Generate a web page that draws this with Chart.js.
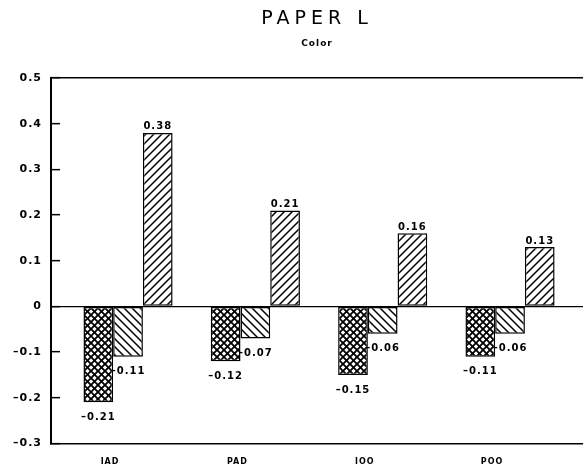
<!DOCTYPE html>
<html><head><meta charset="utf-8">
<script src="https://cdn.jsdelivr.net/npm/chart.js@4/dist/chart.umd.min.js"></script>
<style>html,body{margin:0;padding:0;background:#fff;}</style>
</head><body>
<canvas id="c" width="583" height="468"></canvas>
<script>
const categories = ['IAD', 'PAD', 'IOO', 'POO'];
const series1 = [-0.21, -0.12, -0.15, -0.11];
const series2 = [-0.11, -0.07, -0.06, -0.06];
const series3 = [0.38, 0.21, 0.16, 0.13];
const yMin = -0.3, yMax = 0.5, yStep = 0.1;
const titleText = 'PAPER L';
const subtitleText = 'Color';

function makePattern(kind) {
  const s = kind === 'cross' ? 7 : 8;
  const c = document.createElement('canvas');
  c.width = s; c.height = s;
  const g = c.getContext('2d');
  g.fillStyle = '#fff'; g.fillRect(0, 0, s, s);
  g.strokeStyle = '#000';
  g.lineWidth = kind === 'cross' ? 1.8 : 1.5;
  const fwd = () => {
    g.beginPath();
    g.moveTo(-1, s + 1); g.lineTo(s + 1, -1);
    g.moveTo(-1, 1); g.lineTo(1, -1);
    g.moveTo(s - 1, s + 1); g.lineTo(s + 1, s - 1);
    g.stroke();
  };
  const back = () => {
    g.beginPath();
    g.moveTo(-1, -1); g.lineTo(s + 1, s + 1);
    g.moveTo(s - 1, -1); g.lineTo(s + 1, 1);
    g.moveTo(-1, s - 1); g.lineTo(1, s + 1);
    g.stroke();
  };
  if (kind === 'fwd') fwd();
  else if (kind === 'back') back();
  else { fwd(); back(); }
  return g.createPattern(c, 'repeat');
}

function fmt(v) {
  return (v < 0 ? '\u2013' : '') + Math.abs(v).toFixed(2);
}

const toPoints = arr => arr.map((v, i) => ({ x: i + 1, y: v }));

const valueLabels = {
  id: 'valueLabels',
  beforeDatasetsDraw(chart) {
    const ctx = chart.ctx;
    ctx.save();
    ctx.font = 'bold 10px "DejaVu Sans"';
    ctx.fillStyle = '#000';
    ctx.textAlign = 'center';
    chart.data.datasets.forEach((ds, di) => {
      const meta = chart.getDatasetMeta(di);
      meta.data.forEach((bar, i) => {
        const v = ds.data[i].y;
        if (v >= 0) {
          ctx.textBaseline = 'bottom';
          ctx.fillText(fmt(v), bar.x, bar.y - 1);
        } else {
          ctx.textBaseline = 'middle';
          ctx.fillText(fmt(v), bar.x, bar.y + 15);
        }
      });
    });
    ctx.restore();
  }
};

const spacing = {
  id: 'spacing',
  afterInit(chart) {
    const tb = chart.titleBlock;
    if (tb) {
      const orig = tb.draw.bind(tb);
      tb.draw = function (a) {
        const ctx = chart.ctx;
        const prev = ctx.letterSpacing;
        ctx.letterSpacing = '5px';
        orig(a);
        ctx.letterSpacing = prev;
      };
    }
  },
  beforeDraw(chart) {
    chart.ctx.letterSpacing = '1px';
  }
};

new Chart(document.getElementById('c'), {
  type: 'bar',
  data: {
    datasets: [
      { data: toPoints(series1), backgroundColor: makePattern('cross') },
      { data: toPoints(series2), backgroundColor: makePattern('back') },
      { data: toPoints(series3), backgroundColor: makePattern('fwd') }
    ]
  },
  options: {
    responsive: false,
    animation: false,
    layout: { padding: 0 },
    datasets: {
      bar: {
        borderColor: '#000',
        borderWidth: 1.5,
        borderSkipped: false,
        categoryPercentage: 0.7,
        barPercentage: 1
      }
    },
    plugins: {
      legend: { display: false },
      tooltip: { enabled: false },
      title: {
        display: true, text: titleText, fullSize: false, color: '#000',
        font: { family: 'DejaVu Sans', size: 19, weight: 'normal' },
        padding: { top: 8, bottom: 4 }
      },
      subtitle: {
        display: true, text: subtitleText, fullSize: false, color: '#000',
        font: { family: 'DejaVu Sans', size: 9, weight: 'bold' },
        padding: { top: 3.5, bottom: 21 }
      }
    },
    scales: {
      x: {
        type: 'linear',
        offset: false,
        min: 0.395, max: 4.573,
        grid: { display: false, offset: false },
        border: { display: true, color: '#000', width: 1.5 },
        afterBuildTicks: s => { s.ticks = categories.map((c, i) => ({ value: i + 1 })); },
        afterFit: s => { s.height = 21; },
        ticks: {
          color: '#000',
          padding: 6,
          labelOffset: -18,
          maxRotation: 0,
          font: { family: 'DejaVu Sans', size: 8, weight: 'bold' },
          callback: v => categories[Math.round(v) - 1] || ''
        }
      },
      xTop: {
        type: 'linear', position: 'top', min: 0, max: 1, offset: false,
        grid: { display: false },
        ticks: { display: false },
        border: { display: true, color: '#000', width: 1.5 }
      },
      y: {
        min: yMin, max: yMax,
        afterFit: s => { s.width = 51; },
        border: { display: true, color: '#000', width: 2 },
        grid: {
          drawOnChartArea: true,
          color: c => (c.tick && Math.abs(c.tick.value) < 1e-9) ? '#000' : 'rgba(0,0,0,0)',
          lineWidth: 1.3,
          tickColor: '#000',
          tickWidth: 1.5,
          tickLength: -9
        },
        ticks: {
          stepSize: yStep,
          color: '#000',
          padding: 18,
          font: { family: 'DejaVu Sans', size: 11, weight: 'bold' },
          callback: v => Math.abs(v) < 1e-9 ? '0' : (v < 0 ? '\u2013' : '') + Math.abs(v).toFixed(1)
        }
      }
    }
  },
  plugins: [valueLabels, spacing]
});
</script>
</body></html>
